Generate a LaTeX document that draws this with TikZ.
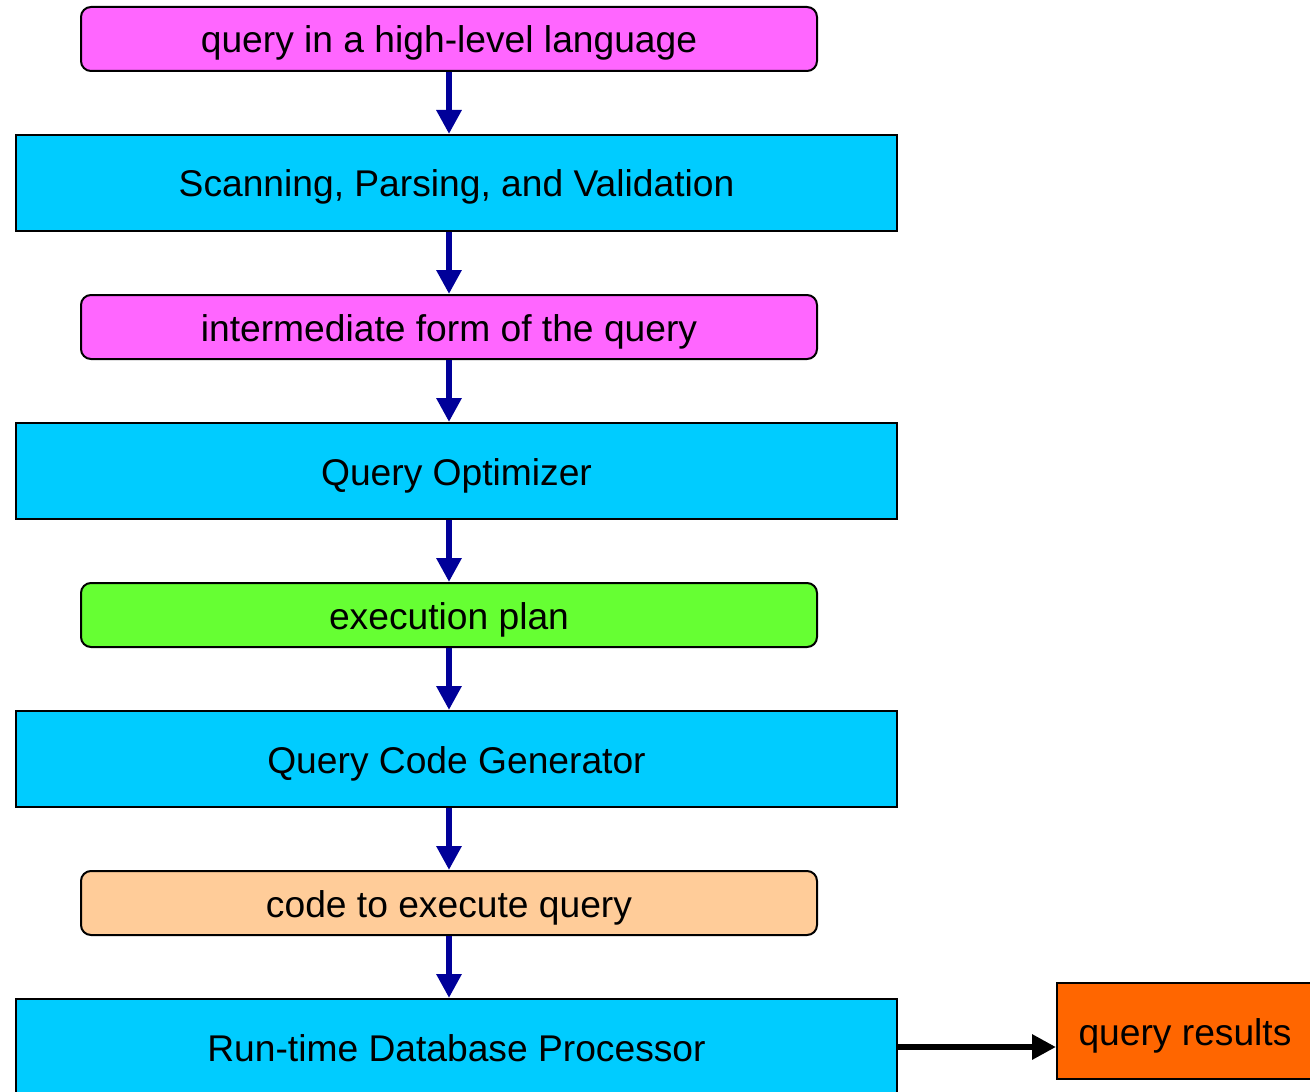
\documentclass[tikz,border=0pt]{standalone}
\usepackage{fontspec}
\setmainfont{Liberation Sans}
\usetikzlibrary{arrows.meta}
\definecolor{formpink}{HTML}{FF66FF}
\definecolor{stepcyan}{HTML}{00CCFF}
\definecolor{plangreen}{HTML}{66FF33}
\definecolor{codepeach}{HTML}{FFCC99}
\definecolor{resorange}{HTML}{FF6600}
\definecolor{flownavy}{HTML}{000099}
\begin{document}
\begin{tikzpicture}
    [   x=0.5pt, y=-0.5pt,
        lbl/.style={font=\fontsize{18.6}{20}\selectfont,text height=16pt,text depth=2pt},
        form/.style={lbl,draw=black,line width=1pt,fill=#1,rounded corners=5pt,
                     minimum width=368pt,minimum height=32pt},
        stage/.style={lbl,draw=black,line width=1pt,fill=stepcyan,
                      minimum width=440.5pt,minimum height=48pt},
        flow/.style={draw=flownavy,line width=3pt,-{Triangle[width=12pt,length=12pt]}},
    ]
        \useasboundingbox (0,0) rectangle (1310,1091);
        \clip (0,0) rectangle (1310,1091);

        % draw the nodes
        \node[form=formpink] (hlquery) at (449,39) {query in a high-level language};
        \node[stage] (parse) at (456.5,183) {Scanning, Parsing, and Validation};
        \node[form=formpink] (interm) at (449,327) {intermediate form of the query};
        \node[stage] (optim) at (456.5,471) {Query Optimizer};
        \node[form=plangreen] (plan) at (449,615) {execution plan};
        \node[stage] (codegen) at (456.5,759) {Query Code Generator};
        \node[form=codepeach] (code) at (449,903) {code to execute query};
        \node[stage] (runtime) at (456.5,1047) {Run-time Database Processor};
        \node[lbl,draw=black,line width=1pt,fill=resorange,minimum width=128pt,minimum height=48pt]
            (results) at (1185,1031) {query results};

        % draw the lines
        \draw[flow] (hlquery.south) -- (hlquery.south |- parse.north);
        \draw[flow] (hlquery.south |- parse.south) -- (interm.north);
        \draw[flow] (interm.south) -- (interm.south |- optim.north);
        \draw[flow] (interm.south |- optim.south) -- (plan.north);
        \draw[flow] (plan.south) -- (plan.south |- codegen.north);
        \draw[flow] (plan.south |- codegen.south) -- (code.north);
        \draw[flow] (code.south) -- (code.south |- runtime.north);
        \draw[black,line width=3pt,-{Triangle[width=12pt,length=12pt]}]
            (runtime.east) -- (runtime.east -| results.west);
\end{tikzpicture}
\end{document}
